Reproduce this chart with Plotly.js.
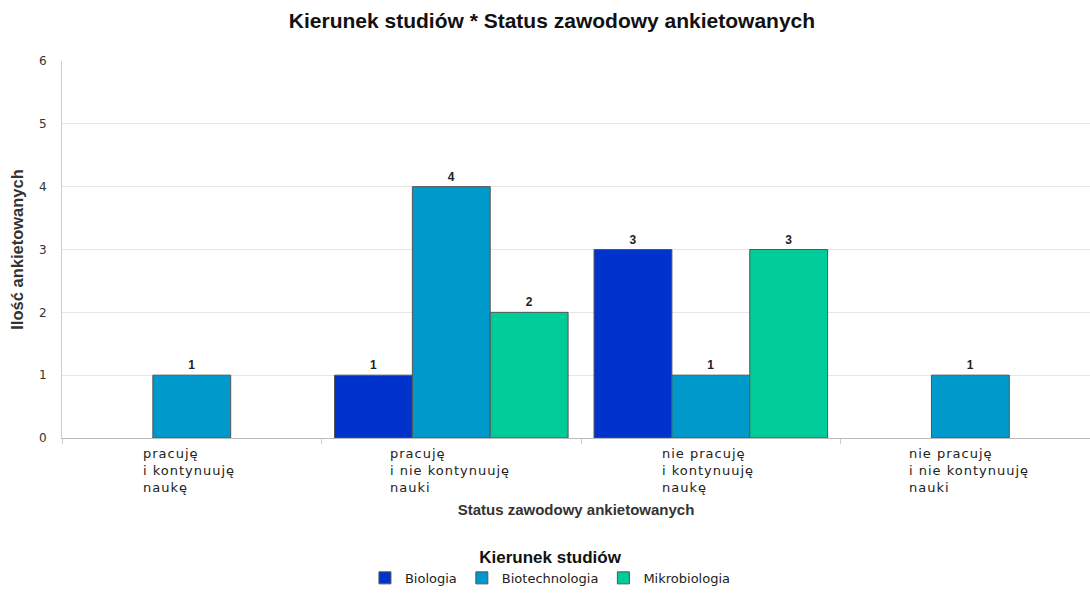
<!DOCTYPE html>
<html><head><meta charset="utf-8">
<script src="https://cdn.plot.ly/plotly-3.0.1.min.js"></script>
<style>
body{margin:0;background:#fff;overflow:hidden}
#c{width:1090px;height:593px}
#c .annotation-text {letter-spacing: 1px}
</style>
</head><body><div id="c"></div>
<script>
const categories = ["pracuję<br>i kontynuuję<br>naukę", "pracuję<br>i nie kontynuuję<br>nauki", "nie pracuję<br>i kontynuuję<br>naukę", "nie pracuję<br>i nie kontynuuję<br>nauki"];
const catKeys = ["c1", "c2", "c3", "c4"];
const biologia = [null, 1, 3, null];
const biotechnologia = [1, 4, 1, 1];
const mikrobiologia = [null, 2, 3, null];
const seriesNames = ["Biologia", "Biotechnologia", "Mikrobiologia"];
const colors = ["#0033cc", "#0099cc", "#00cc99"];
const yTicks = [0, 1, 2, 3, 4, 5, 6];

const series = [biologia, biotechnologia, mikrobiologia];
const traces = series.map((vals, i) => ({
  type: "bar",
  name: seriesNames[i],
  x: catKeys,
  y: vals,
  marker: {color: colors[i], line: {color: "#555555", width: 1}},
  text: vals.map(v => v == null ? "" : String(v)),
  textposition: "outside",
  cliponaxis: false,
  textfont: {family: "Liberation Sans, Arial, sans-serif", size: 12, color: "#222", weight: "bold"},
  hoverinfo: "skip"
}));

const annotations = catKeys.map((k, i) => ({
  x: k, xref: "x", y: 0, yref: "paper", yshift: -6, xshift: -9,
  xanchor: "center", yanchor: "top", align: "left",
  text: categories[i], showarrow: false,
  font: {family: "DejaVu Sans, sans-serif", size: 13, color: "#222"}
}));

const layout = {
  width: 1090, height: 593,
  margin: {l: 62, r: 0, t: 61, b: 155},
  paper_bgcolor: "#fff", plot_bgcolor: "#fff",
  title: {text: "Kierunek studiów * Status zawodowy ankietowanych", xref: "container", x: 0.5064, xanchor: "center", y: 0.965, yanchor: "middle",
          font: {family: "Liberation Sans, Arial, sans-serif", size: 21, color: "#111", weight: "bold"}},
  barmode: "group", bargap: 0.1, bargroupgap: 0,
  xaxis: {
    type: "category", range: [-0.5, 3.461], automargin: false, showticklabels: false, tickson: "boundaries", ticks: "outside", ticklen: 5, tickcolor: "#ccc",
    showline: true, linecolor: "#bbb", linewidth: 1, showgrid: false, zeroline: false,
    title: {text: "Status zawodowy ankietowanych", standoff: 66,
            font: {family: "Liberation Sans, Arial, sans-serif", size: 15, color: "#333", weight: "bold"}}
  },
  yaxis: {
    range: [0, 6], automargin: false, tickvals: yTicks, showgrid: true, gridcolor: "#e6e6e6", gridwidth: 1,
    showline: true, linecolor: "#ccc", zeroline: false, ticks: "", ticklabelstandoff: 12,
    tickfont: {family: "DejaVu Sans, sans-serif", size: 12, color: "#333"},
    title: {text: "Ilość ankietowanych", standoff: 11,
            font: {family: "Liberation Sans, Arial, sans-serif", size: 16.5, color: "#333", weight: "bold"}}
  },
  legend: {
    orientation: "h", xref: "container", x: 0.505, xanchor: "center", yref: "container", y: 0.088, yanchor: "top",
    title: {text: "Kierunek studiów", side: "top center",
            font: {family: "Liberation Sans, Arial, sans-serif", size: 17, color: "#111", weight: "bold"}},
    font: {family: "DejaVu Sans, sans-serif", size: 13, color: "#222"},
    itemclick: false
  },
  annotations: annotations,
  showlegend: true
};

Plotly.newPlot("c", traces, layout, {displayModeBar: false, staticPlot: true});
</script></body></html>
